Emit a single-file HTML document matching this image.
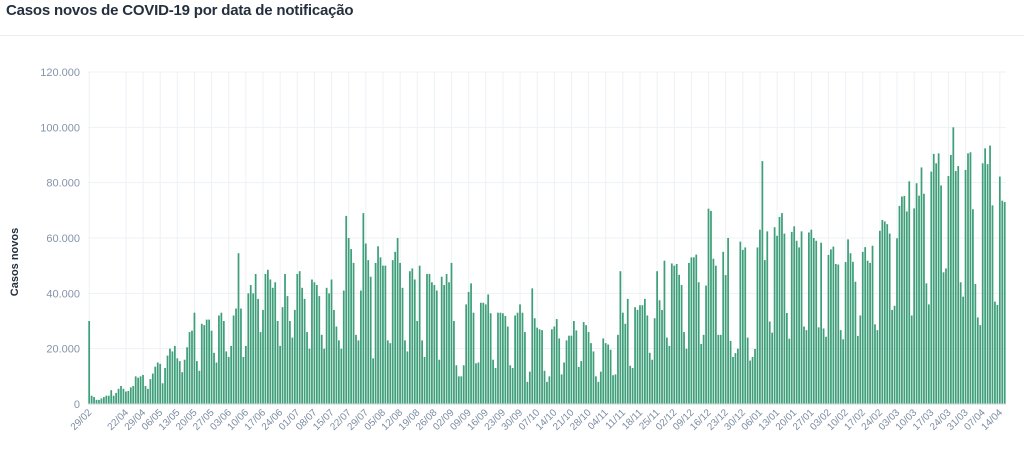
<!DOCTYPE html>
<html><head><meta charset="utf-8"><style>
body{margin:0;background:#fff;width:1024px;height:453px;overflow:hidden;font-family:"Liberation Sans",sans-serif}
#title{position:absolute;left:6px;top:2px;font-size:15px;font-weight:bold;color:#24303e;letter-spacing:-0.2px}
#sep{position:absolute;left:0;top:35px;width:1024px;height:1px;background:#e9eef3}
</style></head><body>
<div id="title">Casos novos de COVID-19 por data de notificação</div>
<div id="sep"></div>
<svg id="chart" width="1024" height="453" style="position:absolute;left:0;top:0"></svg>
<script>
const yTicks=[0,20000,40000,60000,80000,100000,120000];
const yTickLabels=["0","20.000","40.000","60.000","80.000","100.000","120.000"];
const dateLabels=["29/02","22/04","29/04","06/05","13/05","20/05","27/05","03/06","10/06","17/06","24/06","01/07","08/07","15/07","22/07","29/07","05/08","12/08","19/08","26/08","02/09","09/09","16/09","23/09","30/09","07/10","14/10","21/10","28/10","04/11","11/11","18/11","25/11","02/12","09/12","16/12","23/12","30/12","06/01","13/01","20/01","27/01","03/02","10/02","17/02","24/02","03/03","10/03","17/03","24/03","31/03","07/04","14/04"];
const casesA=[30,3,2.5,1.5,1.5,2,2.5,3,3,5,3,4,5.5,6.5,5.5,4.5,4.7,6,6.5,10,9.5,10,10.5,6.5,5.5,9,11,13.5,15,14.5,7.5,13,17.5,20,19,21,16.5,15.5,11.5,16,20.5,26,26.5,33,15.5,12,29,28.5,30.5,30.5,26.5,18.5,15,32,33,30,19,17,21,32,34.5,54.5,34.5,17,21,40,43,40,47,38,26,34,47,48.5,45,42,44,30,21,35];
const casesB=[47,39,30,24,34,47,48,42,38,26,20,45,44,43,39,25,20,42,40,45,34,28,23,20,41,68,60,56,51,25,23,41,69,58,52,46,16.5,51,57,53,50,50,23,22,52,55,60,51,42,23,19,48,49,45,30,50,23,17,47,47,44,43,41,16,46,43,47,44,51,30,14,10];
const casesC=[10,14,36,40.5,43.6,33,14.7,15,36.6,36.6,36,39.6,32.8,16,13,33,33,32.8,31.8,28,14,13,32,33,36,33,26,8,11.7,41.8,31,27.6,27,26.7,12,8,10,27,28,30.7,23.7,10.7,15,23,24.7,24.7,30,26.6,13.4,15.5,29.6,28.5,26,22,19,10,8,11.7,23.7,22,21.5,19.6,10.4,10.7,25,48,33,29,38,13.8,13,35,34,35.7];
const casesD=[35.7,38,32,18.5,16,31,48,37.5,34,51.8,24,21,50.8,50,50.6,46.7,43,26,20,51,53,53,54,44,21.7,25,42.8,70.6,69.8,52.5,50,25,25,55,46.6,60,22.8,17,18.4,20,58.7,55.7,56.6,24,15.7,17,19.9,56.6,63,87.8,52,62.4,29.8,25.8,63.9,60.8,67.6,69,61.6,32.9,23.6,62.2,64.2,59,56.6,62.4,28,26.7,62,63,60,59,27.7];
const casesE=[58.3,27.3,24.3,53.9,55.9,56.9,50.6,50.4,26.7,23.4,51.3,59.5,54.5,51.4,44.2,24.6,32,55,56.7,51.8,51,57.2,28.8,26.7,62.6,66.5,66,65,61.6,34,35.5,59.9,71.6,75,75.2,69.6,80.5,32,70.7,79.8,75.3,85.5,76,43.6,36,84,90.4,87,90.6,79,47.6,49,82.4,90,100,84.2,86,44,38.8,84.6,90.6,91,70.4,43.4,31.3,28.5,87,92.4,86.7,93.4,71.8,37,35.8,82.2,73.5,73];
const cases=casesA.concat(casesB,casesC,casesD,casesE).map(v=>v*1000);

const NS="http://www.w3.org/2000/svg";
const svg=document.getElementById('chart');
const L=88,R=1006,T=72,B=404,YMAX=120000;
const n=cases.length;
const step=(R-L)/n;
function xPos(i){return L+i*step;}
function yPos(v){return B-(v/YMAX)*(B-T);}
function tickIndex(k){return k===0?0:(n-3)-7*(dateLabels.length-1-k);}
function mk(tag,attrs){const e=document.createElementNS(NS,tag);for(const k in attrs)e.setAttribute(k,attrs[k]);svg.appendChild(e);return e;}

yTicks.forEach((t,i)=>{
  const g=mk('line',{x1:L,x2:R,y1:yPos(t),y2:yPos(t),stroke:'#edf1f6','stroke-width':1});
  
  
  const tx=mk('text',{x:L-8,y:yPos(t)+4,'text-anchor':'end','font-size':11,fill:'#8594aa','font-family':'Liberation Sans, sans-serif'});
  tx.textContent=yTickLabels[i];
  
  
});
dateLabels.forEach((d,k)=>{
  const x=xPos(tickIndex(k))+step/2;
  const g=mk('line',{x1:x,x2:x,y1:T,y2:B,stroke:'#edf1f6','stroke-width':1});
  
  
  const tx=mk('text',{x:x+3,y:B+9,'text-anchor':'end','font-size':10,fill:'#7d8ca3','font-family':'Liberation Sans, sans-serif',transform:`rotate(-45 ${x+3} ${B+9})`});
  tx.textContent=d;
  
  
});
cases.forEach((v,i)=>{
  const r=mk('rect',{x:xPos(i)+0.3,y:yPos(v),width:Math.max(step-0.7,0.8),height:B-yPos(v),fill:'#3f9f7a'});
  
  
});
const ax=mk('line',{x1:L,x2:R,y1:B,y2:B,stroke:'#cfd7e0','stroke-width':1});


const yt=mk('text',{x:18,y:262,'text-anchor':'middle','font-size':11,'font-weight':'bold',fill:'#24303e','font-family':'Liberation Sans, sans-serif',transform:'rotate(-90 18 262)'});
yt.textContent='Casos novos';


</script>
</body></html>
